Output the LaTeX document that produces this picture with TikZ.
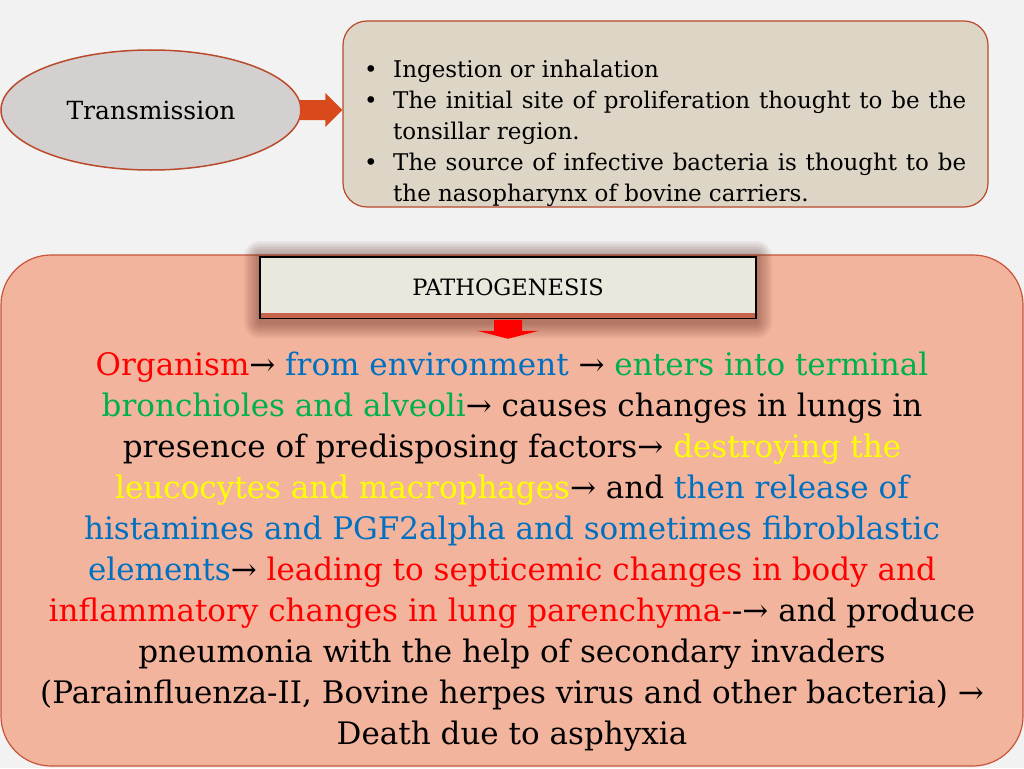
\documentclass[tikz,border=0pt]{standalone}
\usepackage{fontspec}
\setmainfont{DejaVu Serif}
\usepackage{xcolor}
\usetikzlibrary{shapes.geometric, positioning, calc}
\definecolor{slidebg}{HTML}{F2F2F2}
\definecolor{rust}{HTML}{B94A2C}
\definecolor{ovalgray}{HTML}{D4D0CF}
\definecolor{notebeige}{HTML}{DDD6C7}
\definecolor{salmon}{HTML}{F3B49E}
\definecolor{salmonedge}{HTML}{C6553A}
\definecolor{titlecream}{HTML}{EAE7DC}
\definecolor{arroworange}{HTML}{D84A1B}
\definecolor{txtred}{HTML}{FF0000}
\definecolor{txtblue}{HTML}{0070C0}
\definecolor{txtgreen}{HTML}{00B050}
\definecolor{txtyellow}{HTML}{FFFF00}
\tikzstyle{oval} = [ellipse, draw=rust, line width=1.5pt, fill=ovalgray, minimum width=300pt, minimum height=120pt, font=\fontsize{25}{30}\selectfont]
\tikzstyle{notebox} = [rectangle, rounded corners=24pt, draw=rust, line width=1.2pt, fill=notebeige, minimum width=645pt, minimum height=186pt]
\tikzstyle{bigbox} = [rectangle, rounded corners=50pt, draw=salmonedge, line width=1.2pt, fill=salmon, minimum width=1022pt, minimum height=511pt]
\tikzstyle{titlebox} = [rectangle, draw=black, line width=1.5pt, fill=titlecream, minimum width=496pt, minimum height=61pt, font=\fontsize{22.5}{26}\selectfont]
\newcommand{\bul}{\hangindent=29pt\hangafter=1\noindent\makebox[29pt][l]{\textbullet}}

\begin{document}
\begin{tikzpicture}[x=1pt, y=-1pt]
            % slide background
            \fill[slidebg] (0,0) rectangle (1024,768);
            \useasboundingbox (0,0) rectangle (1024,768);

            % Transmission part
            \node[oval] (transmission) at (151, 110) {Transmission};
            \node[notebox] (routes) at (665.5, 114) {};
            \node[anchor=north west, inner sep=0pt, text width=602pt, align=justify, font=\fontsize{23}{31}\selectfont] (routetext) at (364, 60) {%
                \bul Ingestion or inhalation\par
                \bul The initial site of proliferation thought to be the\linebreak tonsillar region.\par
                \bul The source of infective bacteria is thought to be\linebreak the nasopharynx of bovine carriers.\par};
            \coordinate (tip1) at (routes.west |- transmission.east);
            \fill[arroworange] ($(transmission.east)+(-2,-10)$) -- ($(tip1)+(-17,-10)$) -- ($(tip1)+(-17,-17)$) -- (tip1)
                -- ($(tip1)+(-17,17)$) -- ($(tip1)+(-17,10)$) -- ($(transmission.east)+(-2,10)$) -- cycle;

            % Pathogenesis part
            \node[bigbox] (body) at (512, 510.5) {};
            \coordinate (pathoc) at (508, 287.5);
            \foreach \s in {16,14,...,2}
                \fill[black!55!rust, opacity=0.06, rounded corners=\s pt] ($(pathoc)+(-248-\s,-30.5-\s)$) rectangle ($(pathoc)+(248+\s,30.5+\s+4)$);
            \node[titlebox] (patho) at (pathoc) {PATHOGENESIS};
            \fill[rust!85] ($(patho.south west)+(1.5,-6)$) rectangle ($(patho.south east)+(-1.5,-1)$);
            \fill[red] ($(patho.south)+(-14,1)$) -- ($(patho.south)+(-14,12)$) -- ($(patho.south)+(-31,12)$) -- ($(patho.south)+(0,20)$)
                -- ($(patho.south)+(31,12)$) -- ($(patho.south)+(14,12)$) -- ($(patho.south)+(14,1)$) -- cycle;

            \node[align=center, font=\fontsize{31}{41}\selectfont] (chain) at (512, 551.5) {%
                \textcolor{txtred}{Organism}→ \textcolor{txtblue}{from environment} → \textcolor{txtgreen}{enters into terminal}\\
                \textcolor{txtgreen}{bronchioles and alveoli}→ causes changes in lungs in\\
                presence of predisposing factors→ \textcolor{txtyellow}{destroying the}\\
                \textcolor{txtyellow}{leucocytes and macrophages}→ and \textcolor{txtblue}{then release of}\\
                \textcolor{txtblue}{histamines and PGF2alpha and sometimes fibroblastic}\\
                \textcolor{txtblue}{elements}→ \textcolor{txtred}{leading to septicemic changes in body and}\\
                \textcolor{txtred}{inflammatory changes in lung parenchyma-}-→ and produce\\
                pneumonia with the help of secondary invaders\\
                (Parainfluenza-II, Bovine herpes virus and other bacteria) →\\
                Death due to asphyxia};
        \end{tikzpicture}
\end{document}
